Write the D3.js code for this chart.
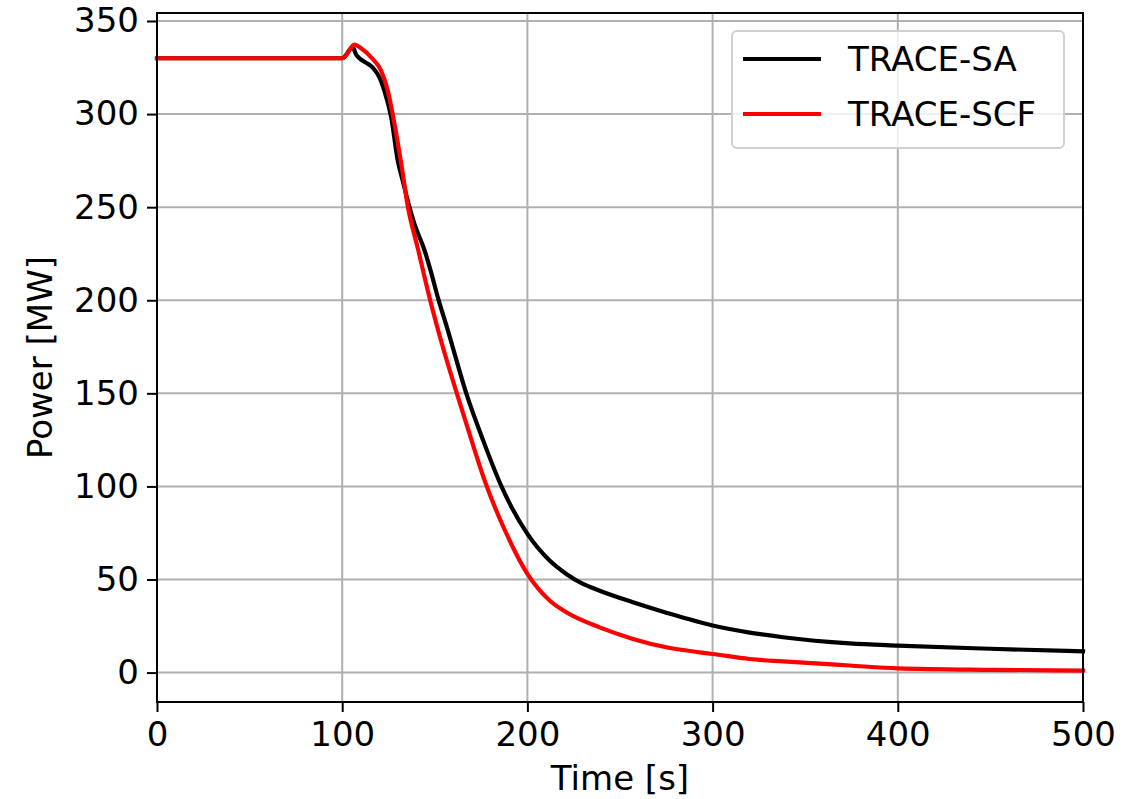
<!DOCTYPE html>
<html>
<head>
<meta charset="utf-8">
<script src="https://cdn.jsdelivr.net/npm/d3@7"></script>
<style>
body { margin: 0; background: #fff; }
text { font-family: "DejaVu Sans", sans-serif; }
</style>
</head>
<body>
<script>
// Dados
var tempoSA = [0, 100, 105.7, 107.5, 109.3, 113, 116.5, 120.1, 123.8, 126.5, 130, 133, 136.3, 139, 144.4, 148, 151.8, 157, 167, 176, 186, 200, 212, 221, 230, 239, 257, 275, 300, 320, 338, 374, 400, 450, 500];
var potenciaSA = [330, 330, 335.8, 332, 330, 327.5, 325, 319.7, 309, 298, 275, 263, 250, 241, 227, 215, 201, 184, 150, 125, 100, 74.5, 60.2, 53, 47.6, 44, 37.8, 32.2, 25.3, 21.5, 19, 15.7, 14.5, 12.8, 11.4];

var tempoSCF = [0, 100.3, 106.6, 110, 116.5, 121, 124.6, 127.3, 131.9, 135.5, 140.8, 147.5, 154.3, 161.9, 169.6, 177.7, 187.6, 200, 212, 221, 239, 257, 275, 293, 300, 320, 338, 374, 400, 450, 500];
var potenciaSCF = [330, 330, 337.3, 335.5, 329.6, 323.3, 312.6, 299.7, 273.2, 250, 228, 200, 175, 150, 125.5, 101, 77, 53, 38.7, 32.4, 24.3, 18.1, 13.6, 10.9, 10, 7.3, 6, 3.8, 2.3, 1.5, 1.1];

var series = ["TRACE-SA", "TRACE-SCF"];
var cores = ["#000000", "#ff0000"];
var xTicks = [0, 100, 200, 300, 400, 500];
var yTicks = [0, 50, 100, 150, 200, 250, 300, 350];

// Dimensoes e margens
var margin = {top: 13, right: 59, bottom: 97, left: 157};
var width = 1142 - margin.left - margin.right;
var height = 799 - margin.top - margin.bottom;

// Escalas
var xScale = d3.scaleLinear().domain([0, 500]).range([0, width]);
var yScale = d3.scaleLinear().domain([-15.8, 354.3]).range([height, 0]);

var mySVG = d3.select("body").append("svg")
	.attr("width", 1142)
	.attr("height", 799)
	.append("g")
	.attr("transform", "translate(" + margin.left + "," + margin.top + ")");

// Grade
mySVG.append("g")
	.selectAll("line.gx")
	.data(xTicks)
	.enter().append("line")
	.attr("x1", function(d) { return xScale(d); })
	.attr("x2", function(d) { return xScale(d); })
	.attr("y1", 0)
	.attr("y2", height)
	.attr("stroke", "#b0b0b0")
	.attr("stroke-width", 2);

mySVG.append("g")
	.selectAll("line.gy")
	.data(yTicks)
	.enter().append("line")
	.attr("x1", 0)
	.attr("x2", width)
	.attr("y1", function(d) { return yScale(d); })
	.attr("y2", function(d) { return yScale(d); })
	.attr("stroke", "#b0b0b0")
	.attr("stroke-width", 2);

// Linhas
var dados = [
	tempoSA.map(function(t, i) { return {t: t, v: potenciaSA[i]}; }),
	tempoSCF.map(function(t, i) { return {t: t, v: potenciaSCF[i]}; })
];

var linha = d3.line()
	.x(function(d) { return xScale(d.t); })
	.y(function(d) { return yScale(d.v); })
	.curve(d3.curveMonotoneX);

mySVG.selectAll("path.serie")
	.data(dados)
	.enter().append("path")
	.attr("class", "serie")
	.attr("d", linha)
	.attr("fill", "none")
	.attr("stroke", function(d, i) { return cores[i]; })
	.attr("stroke-width", 4.2)
	.attr("stroke-linejoin", "round")
	.attr("stroke-linecap", "square");

// Eixos
var xAxis = d3.axisBottom(xScale).tickValues(xTicks).tickSize(10).tickPadding(10);
var yAxis = d3.axisLeft(yScale).tickValues(yTicks).tickSize(10).tickPadding(8);

var xAxisGroup = mySVG.append("g")
	.attr("transform", "translate(0," + height + ")")
	.call(xAxis);
var yAxisGroup = mySVG.append("g").call(yAxis);

[xAxisGroup, yAxisGroup].forEach(function(g) {
	g.select(".domain").remove();
	g.selectAll("line").attr("stroke", "#000").attr("stroke-width", 2);
	g.selectAll("text").attr("font-size", "34px").attr("fill", "#000")
		.attr("font-family", "DejaVu Sans, sans-serif");
});

// Moldura
mySVG.append("rect")
	.attr("width", width)
	.attr("height", height)
	.attr("fill", "none")
	.attr("stroke", "#000")
	.attr("stroke-width", 2);

// Rotulos dos eixos
mySVG.append("text")
	.attr("x", width / 2)
	.attr("y", height + 88)
	.attr("text-anchor", "middle")
	.attr("font-size", "34px")
	.text("Time [s]");

mySVG.append("text")
	.attr("transform", "translate(" + (-105) + "," + (height / 2) + ") rotate(-90)")
	.attr("text-anchor", "middle")
	.attr("font-size", "34px")
	.text("Power [MW]");

// Legenda
var legenda = mySVG.append("g")
	.attr("transform", "translate(" + (732 - margin.left) + "," + (31 - margin.top) + ")");

legenda.append("rect")
	.attr("width", 332)
	.attr("height", 117)
	.attr("rx", 5)
	.attr("fill", "#fff")
	.attr("fill-opacity", 0.8)
	.attr("stroke", "#d0d0d0")
	.attr("stroke-width", 2);

var itens = legenda.selectAll("g.item")
	.data(series)
	.enter().append("g")
	.attr("transform", function(d, i) { return "translate(0," + (28 + i * 55) + ")"; });

itens.append("line")
	.attr("x1", 11)
	.attr("x2", 89)
	.attr("stroke", function(d, i) { return cores[i]; })
	.attr("stroke-width", 4.2);

itens.append("text")
	.attr("x", 116)
	.attr("dy", "0.35em")
	.attr("font-size", "34px")
	.text(function(d) { return d; });
</script>
</body>
</html>
